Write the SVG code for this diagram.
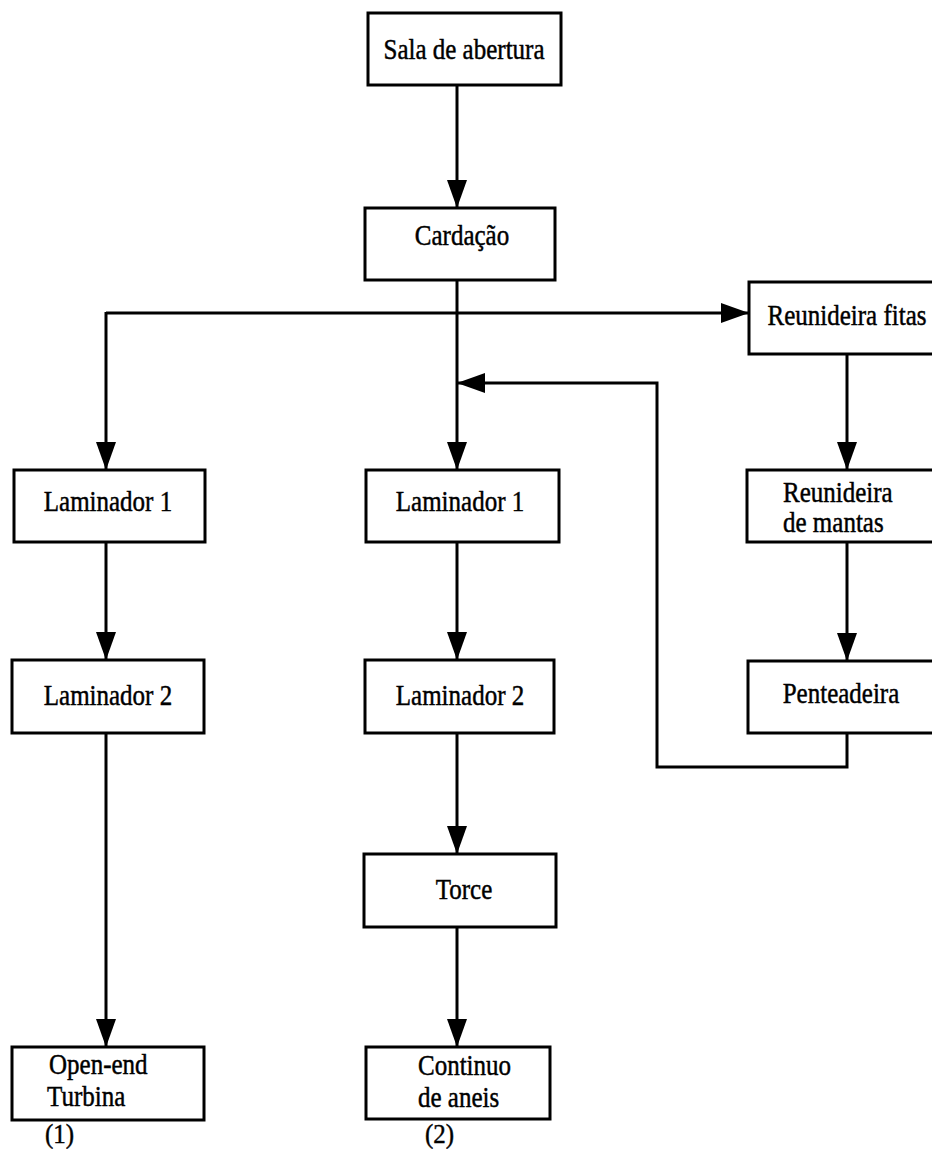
<svg xmlns="http://www.w3.org/2000/svg" width="932" height="1149" viewBox="0 0 932 1149">
  <style>
    .box { fill: #ffffff; stroke: #000000; stroke-width: 3; }
    .lbl { font-family: "Liberation Serif", "Times New Roman", serif; font-size: 25px; fill: #000000; stroke: #000000; stroke-width: 0.4; }
    .mid { text-anchor: middle; }
    .wire { fill: none; stroke: #000000; stroke-width: 3; }
    .arr { marker-end: url(#head); }
  </style>
  <defs>
    <marker id="head" markerUnits="userSpaceOnUse" markerWidth="30" markerHeight="22" refX="28" refY="10" orient="auto">
      <path d="M0,0 L28,10 L0,20 Z" fill="#000000"/>
    </marker>
  </defs>

  <!-- connectors -->
  <g id="connectors">
    <line class="wire arr" x1="457" y1="85" x2="457" y2="208"/>
    <line class="wire arr" x1="457" y1="280" x2="457" y2="470"/>
    <polyline class="wire arr" points="106,313 749,313"/>
    <polyline class="wire arr" points="106,312 106,470"/>
    <line class="wire arr" x1="847" y1="354" x2="847" y2="470"/>
    <line class="wire arr" x1="847" y1="542" x2="847" y2="661"/>
    <polyline class="wire arr" points="847,733 847,767 657,767 657,383 457,383"/>
    <line class="wire arr" x1="106" y1="542" x2="106" y2="660"/>
    <line class="wire arr" x1="457" y1="542" x2="457" y2="660"/>
    <line class="wire arr" x1="106" y1="733" x2="106" y2="1047"/>
    <line class="wire arr" x1="457" y1="733" x2="457" y2="854"/>
    <line class="wire arr" x1="457" y1="927" x2="457" y2="1047"/>
  </g>

  <!-- labels are drawn slightly taller than the base face: translate to baseline, stretch vertically -->
  <g id="sala-abertura">
    <rect class="box" x="368" y="13" width="193" height="72"/>
    <text class="lbl mid" x="464" y="0" transform="translate(0,59) scale(1,1.15)">Sala de abertura</text>
  </g>

  <g id="cardacao">
    <rect class="box" x="365" y="208" width="190" height="72"/>
    <text class="lbl mid" x="462" y="0" transform="translate(0,245) scale(1,1.15)">Cardação</text>
  </g>

  <g id="reunideira-fitas">
    <rect class="box" x="749" y="282" width="196" height="72"/>
    <text class="lbl mid" x="847" y="0" transform="translate(0,325) scale(1,1.15)">Reunideira fitas</text>
  </g>

  <g id="laminador1-a">
    <rect class="box" x="14" y="470" width="191" height="72"/>
    <text class="lbl mid" x="108" y="0" transform="translate(0,511) scale(1,1.15)">Laminador 1</text>
  </g>

  <g id="laminador1-b">
    <rect class="box" x="366" y="470" width="193" height="72"/>
    <text class="lbl mid" x="460" y="0" transform="translate(0,511) scale(1,1.15)">Laminador 1</text>
  </g>

  <g id="reunideira-mantas">
    <rect class="box" x="747" y="470" width="198" height="72"/>
    <text class="lbl" x="783" y="0" transform="translate(0,502) scale(1,1.15)">Reunideira</text>
    <text class="lbl" x="783" y="0" transform="translate(0,532) scale(1,1.15)">de mantas</text>
  </g>

  <g id="laminador2-a">
    <rect class="box" x="12" y="660" width="192" height="73"/>
    <text class="lbl mid" x="108" y="0" transform="translate(0,705) scale(1,1.15)">Laminador 2</text>
  </g>

  <g id="laminador2-b">
    <rect class="box" x="365" y="660" width="189" height="73"/>
    <text class="lbl mid" x="460" y="0" transform="translate(0,705) scale(1,1.15)">Laminador 2</text>
  </g>

  <g id="penteadeira">
    <rect class="box" x="748" y="661" width="197" height="72"/>
    <text class="lbl mid" x="841" y="0" transform="translate(0,703) scale(1,1.15)">Penteadeira</text>
  </g>

  <g id="torce">
    <rect class="box" x="364" y="854" width="192" height="73"/>
    <text class="lbl mid" x="464" y="0" transform="translate(0,899) scale(1,1.15)">Torce</text>
  </g>

  <g id="open-end">
    <rect class="box" x="12" y="1047" width="192" height="73"/>
    <text class="lbl" x="49" y="0" transform="translate(0,1074) scale(1,1.15)">Open-end</text>
    <text class="lbl" x="47" y="0" transform="translate(0,1106) scale(1,1.15)">Turbina</text>
    <text class="lbl" x="45" y="0" font-size="29" transform="translate(0,1143) scale(1,1.05)">(1)</text>
  </g>

  <g id="continuo">
    <rect class="box" x="366" y="1047" width="184" height="72"/>
    <text class="lbl" x="418" y="0" transform="translate(0,1075) scale(1,1.15)">Continuo</text>
    <text class="lbl" x="418" y="0" transform="translate(0,1107) scale(1,1.15)">de aneis</text>
    <text class="lbl" x="425" y="0" font-size="29" transform="translate(0,1143) scale(1,1.05)">(2)</text>
  </g>
</svg>
